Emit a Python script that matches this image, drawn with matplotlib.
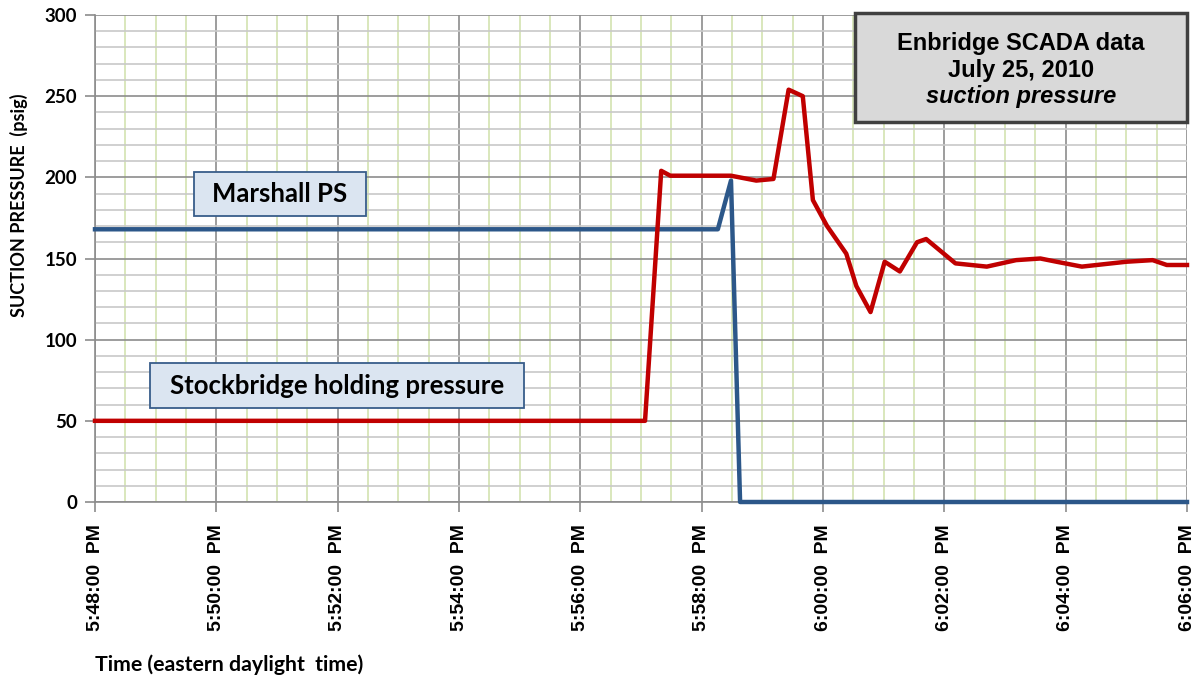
import matplotlib
matplotlib.use('Agg')
import matplotlib.pyplot as plt
from matplotlib.ticker import MultipleLocator, FuncFormatter

# red: Stockbridge holding pressure (psig)
red_times = ['5:48:00', '5:57:04', '5:57:20', '5:57:29', '5:57:45', '5:58:29', '5:58:54',
             '5:59:11', '5:59:26', '5:59:40', '5:59:50', '6:00:04', '6:00:23', '6:00:33',
             '6:00:47', '6:01:01', '6:01:16', '6:01:33', '6:01:42', '6:02:11', '6:02:42',
             '6:03:11', '6:03:35', '6:03:51', '6:04:16', '6:05:00', '6:05:26', '6:05:40',
             '6:06:00']
red_psig = [50, 50, 204, 201, 201, 201, 198,
            199, 254, 250, 186, 170, 153, 133,
            117, 148, 142, 160, 162, 147, 145,
            149, 150, 148, 145, 148, 149, 146,
            146]

# blue: Marshall PS suction pressure (psig)
blue_times = ['5:48:00', '5:58:16', '5:58:29', '5:58:38', '6:06:00']
blue_psig = [168, 168, 198, 0, 0]

tick_labels = ['5:48:00  PM', '5:50:00  PM', '5:52:00  PM', '5:54:00  PM', '5:56:00  PM',
               '5:58:00  PM', '6:00:00  PM', '6:02:00  PM', '6:04:00  PM', '6:06:00  PM']


def to_min(s):
    h, m, sec = [int(v) for v in s.split(':')]
    return (h - 5) * 60 + m - 48 + sec / 60.0


rx = [to_min(t) for t in red_times]
bx = [to_min(t) for t in blue_times]

fig = plt.figure(figsize=(12.01, 6.84), dpi=100)
ax = fig.add_axes([95 / 1201, 1 - 502 / 684, (1187 - 95) / 1201, (502 - 15) / 684])

ax.set_xlim(0, 18)
ax.set_ylim(0, 300)

# grid like the excel sheet
ax.xaxis.set_major_locator(MultipleLocator(2))
ax.xaxis.set_minor_locator(MultipleLocator(0.5))
ax.yaxis.set_major_locator(MultipleLocator(50))
ax.yaxis.set_minor_locator(MultipleLocator(10))
ax.grid(which='minor', axis='x', color='#d3e3b0', lw=1.2)
ax.grid(which='minor', axis='y', color='#c8c8c8', lw=1.2)
ax.grid(which='major', color='#8c8c8c', lw=1.2)
ax.set_axisbelow(True)

ax.plot(bx, blue_psig, color='#2c5789', lw=3.2, zorder=3, clip_on=False)
ax.plot(rx, red_psig, color='#c00000', lw=3.2, zorder=4, clip_on=False)

for side in ['top', 'right']:
    ax.spines[side].set_visible(False)
for side in ['left', 'bottom']:
    ax.spines[side].set_color('#8c8c8c')
    ax.spines[side].set_linewidth(1.2)

ax.set_xticks(range(0, 19, 2))
ax.set_xticklabels(tick_labels, rotation=90, fontsize=14, fontweight='bold',
                   family='Liberation Sans')
ax.yaxis.set_major_formatter(FuncFormatter(lambda v, p: '%d' % v))
for lab in ax.get_yticklabels():
    lab.set_fontsize(13.5)
    lab.set_fontweight('bold')
    lab.set_family('Lato')
ax.tick_params(which='major', length=7, color='#8c8c8c', width=1.2)
ax.tick_params(which='minor', length=0)
ax.tick_params(axis='x', pad=9)
ax.tick_params(axis='y', pad=6)

fig.text(19 / 1201, 1 - 205 / 684, 'SUCTION PRESSURE  (psig)', rotation=90, fontsize=13,
         fontweight='bold', family='Lato', ha='center', va='center')
fig.text(95 / 1201, 1 - 665 / 684, 'Time (eastern daylight  time)', fontsize=15.3,
         fontweight='bold', family='Lato', ha='left', va='center')

# label boxes
ax.add_patch(plt.Rectangle((1.632, 176.2), 4.467 - 1.632, 203.3 - 176.2, fc='#dbe5f1',
                           ec='#385d8a', lw=1.3, zorder=5))
ax.text((1.632 + 4.467) / 2, 189.7, 'Marshall PS', fontsize=18.5, fontweight='bold',
        family='Lato', ha='center', va='center', zorder=6)
ax.add_patch(plt.Rectangle((0.907, 57.9), 7.071 - 0.907, 85.6 - 57.9, fc='#dbe5f1',
                           ec='#385d8a', lw=1.3, zorder=5))
ax.text((0.907 + 7.071) / 2, 71.7, 'Stockbridge holding pressure', fontsize=18.5,
        fontweight='bold', family='Lato', ha='center', va='center', zorder=6)

title_lines = ['Enbridge SCADA data', 'July 25, 2010', 'suction pressure']
title_y = [282.5, 266, 249.5]
for i in range(3):
    ax.text(to_min('6:03:16'), title_y[i], title_lines[i], fontsize=17, fontweight='bold',
            style='italic' if i == 2 else 'normal', family='Liberation Sans',
            ha='center', va='center', zorder=6)
box = plt.Rectangle((to_min('6:00:32'), 234), to_min('6:06:00') - to_min('6:00:32'), 67.5,
                    fc='#d9d9d9', ec='#404040', lw=2.5, zorder=5, clip_on=False)
ax.add_patch(box)

fig.savefig('out.png', dpi=100)
